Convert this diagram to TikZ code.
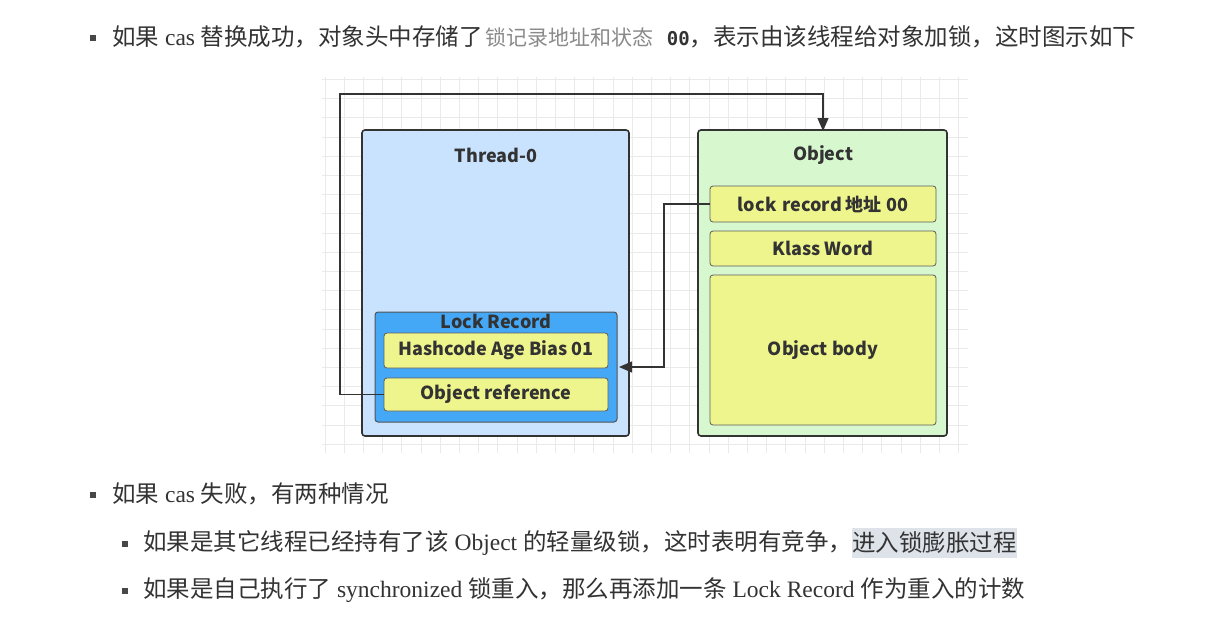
\documentclass[tikz,border=0pt]{standalone}
\usepackage{fontspec}
\setmainfont{Liberation Serif}
\newfontfamily\cjk{Noto Sans CJK SC}
\newfontfamily\monof{DejaVu Sans Mono}
\usetikzlibrary{arrows.meta}
\definecolor{txt}{HTML}{333333}
\definecolor{grayt}{HTML}{8A8A8A}
\definecolor{gridc}{HTML}{EAEAEA}
\definecolor{edge}{HTML}{333333}
\definecolor{thr}{HTML}{C9E3FF}
\definecolor{lrec}{HTML}{45A8F7}
\definecolor{objg}{HTML}{D7F7CF}
\definecolor{yel}{HTML}{EEF58C}
\definecolor{hl}{HTML}{DEE3EA}
\tikzset{
  outerbox/.style={draw=edge, line width=1.6pt, rounded corners=3pt},
  innerbox/.style={draw=edge!80, line width=0.8pt, rounded corners=3pt, fill=yel},
  lbl/.style={font=\cjk\bfseries\fontsize{18}{21}\selectfont, text=txt, inner sep=0pt},
  conn/.style={draw=edge, line width=1.2pt},
  para/.style={font=\fontsize{23.5}{28}\selectfont, text=txt, inner sep=0pt, anchor=west},
  bul/.style={fill=txt!90, minimum size=6.5pt, inner sep=0pt},
  tip/.style={-{Triangle[length=13pt,width=11pt]}},
}
\begin{document}
\begin{tikzpicture}[x=1pt,y=-1pt]
\useasboundingbox (0,0) rectangle (1205,627);
\fill[white] (0,0) rectangle (1205,627);
% grid background
\begin{scope}
\clip (322,77) rectangle (968,453);
\foreach \i in {0,...,34} {\draw[gridc, line width=0.7pt] (325+19.2*\i,77) -- (325+19.2*\i,453);}
\foreach \j in {0,...,19} {\draw[gridc, line width=0.7pt] (322,79.3+19.2*\j) -- (968,79.3+19.2*\j);}
\end{scope}
% Thread-0
\path[outerbox, fill=thr] (362,130) rectangle (629,436);
\node[lbl] (thread) at (496,155) {Thread-0};
\path[draw=edge!85, line width=1pt, rounded corners=3pt, fill=lrec] (375,312) rectangle (617,422);
\coordinate (lrR) at (617,367);
\node[lbl] (lrec) at (496,321) {Lock Record};
\node[innerbox, minimum width=224pt, minimum height=35pt, inner sep=0pt] (hash) at (496,350.5) {};
\node[lbl] at (hash.center) {Hashcode Age Bias 01};
\node[innerbox, minimum width=224pt, minimum height=33pt, inner sep=0pt] (oref) at (496,394.5) {};
\node[lbl] at (oref.center) {Object reference};
% Object
\path[outerbox, fill=objg] (698,130) rectangle (947,436);
\coordinate (objTop) at (823,130);
\node[lbl] (objt) at (823,155) {Object};
\node[innerbox, minimum width=226pt, minimum height=36pt, inner sep=0pt] (lockw) at (823,204) {};
\node[lbl] at (lockw.center) {lock\,\,record 地址 00};
\node[innerbox, minimum width=226pt, minimum height=35pt, inner sep=0pt] (klass) at (823,248.5) {};
\node[lbl] at (klass.center) {Klass Word};
\node[innerbox, minimum width=226pt, minimum height=150pt, inner sep=0pt] (body) at (823,350) {};
\node[lbl] at (body.center) {Object body};
% connectors
\draw[conn, tip] (oref.west) -- (340,394.5) -- (340,94) -- (823,94) -- ([yshift=-1pt]objTop);
\draw[conn, tip] (lockw.west) -- (664,204) -- (664,367) -- ([xshift=2pt]lrR);
% text
\node[bul] (b1) at (93,38) {};
\node[para] (t1) at (112,37) {{\cjk 如果} cas {\cjk 替换成功，对象头中存储了}\hspace{3pt}{\cjk\fontsize{21}{25}\selectfont\color{grayt}锁记录地址和状态}\hspace{13pt}{\monof\bfseries\fontsize{19}{23}\selectfont 00}{\cjk ，表示由该线程给对象加锁，这时图示如下}};
\node[bul] (b2) at (93,495) {};
\node[para] (t2) at (112,494) {{\cjk 如果} cas {\cjk 失败，有两种情况}};
\node[bul] (b3) at (125,544) {};
\node[para] (t3) at (143,543) {{\cjk 如果是其它线程已经持有了该} Object {\cjk 的轻量级锁，这时表明有竞争，}};
\node[para, fill=hl, inner ysep=4pt, inner xsep=0pt] (t3h) at (t3.east) {\cjk 进入锁膨胀过程};
\node[bul] (b4) at (125,591) {};
\node[para] (t4) at (143,590) {{\cjk 如果是自己执行了} synchronized {\cjk 锁重入，那么再添加一条} Lock Record {\cjk 作为重入的计数}};
\end{tikzpicture}
\end{document}
